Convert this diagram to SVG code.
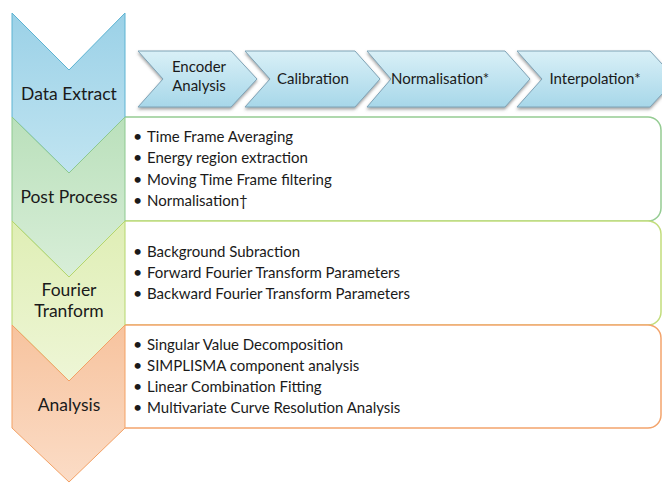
<svg xmlns="http://www.w3.org/2000/svg" width="662" height="483" viewBox="0 0 662 483">
  <defs>
    <linearGradient id="gBlue" x1="0" y1="0" x2="0" y2="1">
      <stop offset="0" stop-color="#9bd1e7"/>
      <stop offset="1" stop-color="#c0e4f1"/>
    </linearGradient>
    <linearGradient id="gGreen" x1="0" y1="0" x2="0" y2="1">
      <stop offset="0" stop-color="#bae0bb"/>
      <stop offset="1" stop-color="#d8eed8"/>
    </linearGradient>
    <linearGradient id="gLime" x1="0" y1="0" x2="0" y2="1">
      <stop offset="0" stop-color="#dfeeb5"/>
      <stop offset="1" stop-color="#eef6d6"/>
    </linearGradient>
    <linearGradient id="gOrange" x1="0" y1="0" x2="0" y2="1">
      <stop offset="0" stop-color="#f7c39e"/>
      <stop offset="1" stop-color="#fbdcc6"/>
    </linearGradient>
    <linearGradient id="gStep" x1="0" y1="0" x2="0" y2="1">
      <stop offset="0" stop-color="#d9f0f7"/>
      <stop offset="1" stop-color="#a7d7e9"/>
    </linearGradient>
    <filter id="shadow" x="-10%" y="-20%" width="120%" height="150%">
      <feDropShadow dx="0" dy="2" stdDeviation="1.4" flood-color="#555555" flood-opacity="0.55"/>
    </filter>
  </defs>
  <style>
    .stage { font-family: Lato, "Liberation Sans", sans-serif; font-size: 17.5px; fill: #1a1a1a; text-anchor: middle; }
    .step { fill: url(#gStep); stroke: #7fa3b6; stroke-width: 1; filter: url(#shadow); }
    .stepText { font-family: Lato, "Liberation Sans", sans-serif; font-size: 15px; fill: #1a1a1a; text-anchor: middle; }
    .item { font-family: Lato, "Liberation Sans", sans-serif; font-size: 15px; fill: #1a1a1a; }
    .dot { font-family: Lato, "Liberation Sans", sans-serif; font-size: 16px; fill: #1a1a1a; }
    .box { fill: #ffffff; stroke-width: 1.5; }
  </style>
  <rect width="662" height="483" fill="#ffffff"/>

  <!-- detail boxes behind the stage chevrons -->
  <g id="post-process-box">
    <path class="box" stroke="#95cc93" d="M125 117 H648 A13 13 0 0 1 661 130 V208 A13 13 0 0 1 648 221 H125"/>
    <text class="dot" x="133" y="142">•</text><text class="item" x="147" y="142">Time Frame Averaging</text>
    <text class="dot" x="133" y="163">•</text><text class="item" x="147" y="163">Energy region extraction</text>
    <text class="dot" x="133" y="185">•</text><text class="item" x="147" y="185">Moving Time Frame filtering</text>
    <text class="dot" x="133" y="206">•</text><text class="item" x="147" y="206">Normalisation†</text>
  </g>
  <g id="fourier-box">
    <path class="box" stroke="#c2dd7c" d="M125 221 H648 A13 13 0 0 1 661 234 V312 A13 13 0 0 1 648 325 H125"/>
    <text class="dot" x="133" y="257">•</text><text class="item" x="147" y="257">Background Subraction</text>
    <text class="dot" x="133" y="278">•</text><text class="item" x="147" y="278">Forward Fourier Transform Parameters</text>
    <text class="dot" x="133" y="299">•</text><text class="item" x="147" y="299">Backward Fourier Transform Parameters</text>
  </g>
  <g id="analysis-box">
    <path class="box" stroke="#f3a46c" d="M125 325 H648 A13 13 0 0 1 661 338 V415 A13 13 0 0 1 648 428 H125"/>
    <text class="dot" x="133" y="350">•</text><text class="item" x="147" y="350">Singular Value Decomposition</text>
    <text class="dot" x="133" y="371">•</text><text class="item" x="147" y="371">SIMPLISMA component analysis</text>
    <text class="dot" x="133" y="392">•</text><text class="item" x="147" y="392">Linear Combination Fitting</text>
    <text class="dot" x="133" y="413">•</text><text class="item" x="147" y="413">Multivariate Curve Resolution Analysis</text>
  </g>

  <!-- vertical stage chevrons -->
  <g id="data-extract">
    <polygon points="12,13 69,70 125,13 125,117 69,173 12,117" fill="url(#gBlue)" stroke="#5cb3d2" stroke-width="1"/>
    <text class="stage" x="69" y="100">Data Extract</text>
  </g>
  <g id="post-process">
    <polygon points="12,117 69,173 125,117 125,221 69,277 12,221" fill="url(#gGreen)" stroke="#8dc98f" stroke-width="1"/>
    <text class="stage" x="69" y="203">Post Process</text>
  </g>
  <g id="fourier-transform">
    <polygon points="12,221 69,277 125,221 125,325 69,381 12,325" fill="url(#gLime)" stroke="#b5d66c" stroke-width="1"/>
    <text class="stage" x="69" y="296">Fourier</text>
    <text class="stage" x="69" y="317">Tranform</text>
  </g>
  <g id="analysis">
    <polygon points="12,325 69,381 125,325 125,428 69,482 12,428" fill="url(#gOrange)" stroke="#f3a165" stroke-width="1"/>
    <text class="stage" x="69" y="411">Analysis</text>
  </g>

  <!-- extraction steps -->
  <g id="step-encoder">
    <polygon class="step" points="138,51 231,51 257,79 231,107 138,107 163,79"/>
    <text class="stepText" x="199" y="72">Encoder</text>
    <text class="stepText" x="199" y="91">Analysis</text>
  </g>
  <g id="step-calibration">
    <polygon class="step" points="245,51 355,51 380,79 355,107 245,107 270,79"/>
    <text class="stepText" x="313" y="84">Calibration</text>
  </g>
  <g id="step-normalisation">
    <polygon class="step" points="367,51 505,51 530,79 505,107 367,107 391,79"/>
    <text class="stepText" x="440" y="84">Normalisation*</text>
  </g>
  <g id="step-interpolation">
    <polygon class="step" points="517,51 650,51 676,79 650,107 517,107 542,79"/>
    <text class="stepText" x="595" y="84">Interpolation*</text>
  </g>

  <!-- the step chevrons abut one another; no separate connectors are drawn -->
  <g id="connectors"/>
</svg>
